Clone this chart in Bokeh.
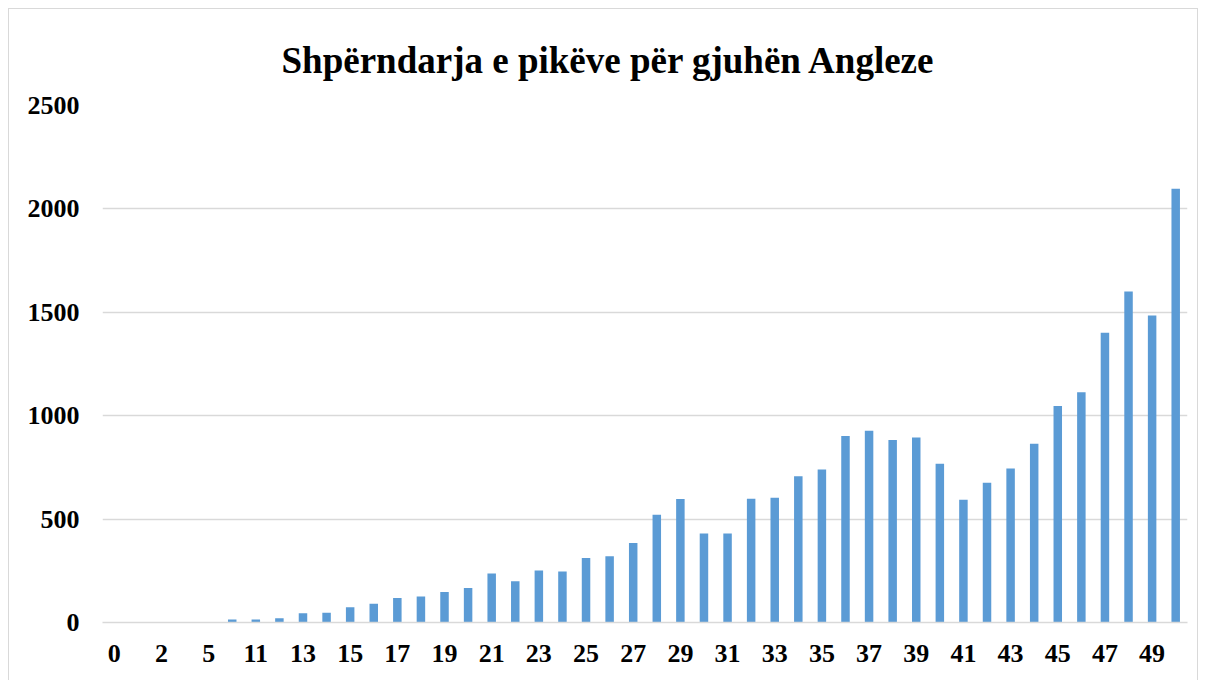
from bokeh.plotting import figure
from bokeh.models import Range1d, SingleIntervalTicker, FixedTicker
from bokeh.embed import file_html
from bokeh.resources import INLINE

categories = ["0", "1", "2", "3", "5", "10"] + [str(i) for i in range(11, 51)]
values = [1, 1, 1, 1, 2, 14,
          14, 21, 45, 47, 74, 91, 118, 126, 148, 167,
          237, 200, 252, 247, 312, 320, 384, 521, 597, 430,
          430, 599, 603, 707, 740, 902, 927, 883, 894, 768,
          593, 676, 745, 864, 1047, 1113, 1401, 1601, 1485, 2097]
title_text = "Shpërndarja e pikëve për gjuhën Angleze"

FONT = "Liberation Serif"
GRID = "#d9d9d9"

xs = list(range(len(categories)))

p = figure(x_range=Range1d(-0.5, len(categories) - 0.5), y_range=Range1d(0, 2500),
           width=1190, height=680, output_backend="svg", toolbar_location=None,
           min_border_left=93, min_border_right=12, min_border_top=96, min_border_bottom=67,
           title=title_text)
p.styles = {"border": "1px solid #d9d9d9", "margin-left": "8px", "margin-top": "8px"}

p.title.align = "left"
p.title.text_font = FONT
p.title.text_font_style = "bold"
p.title.text_font_size = "37px"
p.title.text_color = "black"
p.title.offset = 179
if hasattr(p.title, "standoff"):
    p.title.standoff = 50

p.vbar(x=xs, top=values, width=0.36, color="#5B9BD5", line_color=None)

p.outline_line_color = None
p.xgrid.grid_line_color = None
p.ygrid.grid_line_color = GRID
p.ygrid.grid_line_width = 1.5
p.yaxis.ticker = SingleIntervalTicker(interval=500)
p.xaxis.ticker = FixedTicker(ticks=xs[::2])
p.xaxis.major_label_overrides = {i: categories[i] for i in xs}

for ax in (p.xaxis, p.yaxis):
    ax.major_label_text_font = FONT
    ax.major_label_text_font_style = "bold"
    ax.major_label_text_font_size = "26px"
    ax.major_label_text_color = "black"
    ax.major_tick_line_color = None
    ax.minor_tick_line_color = None

p.yaxis.axis_line_color = None
p.yaxis.major_label_standoff = 17
p.xaxis.axis_line_color = GRID
p.xaxis.axis_line_width = 1.5
p.xaxis.major_label_standoff = 16

open("out.html", "w").write(file_html(p, INLINE))
